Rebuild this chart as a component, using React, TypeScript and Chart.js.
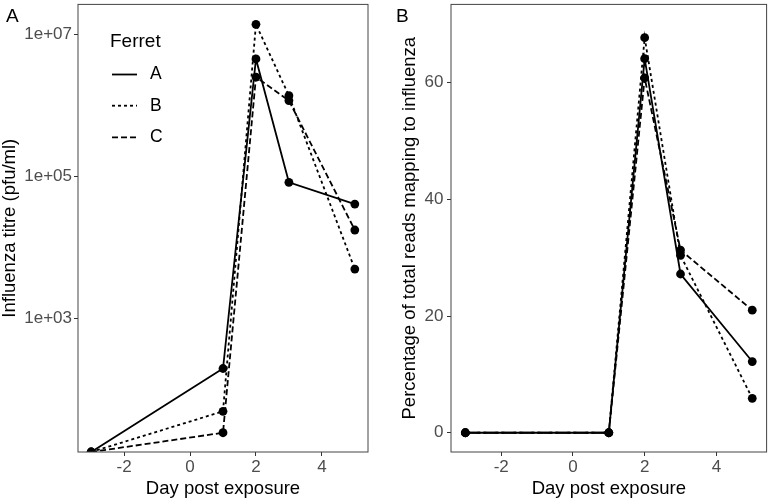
import { useEffect, useRef } from "react";
import { Chart, registerables } from "chart.js";
Chart.register(...registerables);

// ---- data ----
const days = [-3, 1, 2, 3, 5];
const ferrets = ["A", "B", "C"];
const titreA = [0, 200, 4.5e6, 8.3e4, 4.1e4];
const titreB = [0, 50, 1.38e7, 1.37e6, 5.0e3];
const titreC = [0, 25, 2.5e6, 1.17e6, 1.77e4];
const readsA = [0, 0, 64.1, 27.2, 12.2];
const readsB = [0, 0, 67.7, 30.4, 5.9];
const readsC = [0, 0, 60.8, 31.3, 21.0];
const xTicks = [-2, 0, 2, 4];
const titreTicks = [1e3, 1e5, 1e7];
const readsTicks = [0, 20, 40, 60];
const xRange = [-3.4, 5.4];
const titreRange = [13.4, 2.63e7];
const readsRange = [-3.3, 73.4];

const FONT = "'Liberation Sans', Arial, Helvetica, sans-serif";
const dashes: number[][] = [[], [3, 3], [6, 3]];
const LW = 1.8;

function fmtExp(v: number) {
  const e = Math.round(Math.log10(v));
  return "1e+" + String(e).padStart(2, "0");
}

function makeDatasets(series: number[][], floor: number | null) {
  return series.map((vals, k) => ({
    label: ferrets[k],
    data: days.map((d, i) => ({ x: d, y: floor !== null && vals[i] <= 0 ? floor : vals[i] })),
    borderColor: "#000",
    backgroundColor: "#000",
    borderWidth: LW,
    borderDash: dashes[k],
    pointRadius: 4.4,
    pointBorderWidth: 0,
    pointBackgroundColor: "#000",
    tension: 0,
  }));
}

const framePlugin = (label: string, legend: boolean) => ({
  id: "frame",
  afterDraw(chart: any) {
    const { ctx, chartArea: a } = chart;
    ctx.save();
    ctx.strokeStyle = "#444";
    ctx.lineWidth = 1;
    ctx.strokeRect(a.left, a.top, a.right - a.left, a.bottom - a.top);
    ctx.fillStyle = "#000";
    ctx.font = `19px ${FONT}`;
    ctx.textAlign = "left";
    ctx.textBaseline = "alphabetic";
    ctx.fillText(label, 6, 21.5);
    if (legend) {
      ctx.textBaseline = "middle";
      ctx.font = `19px ${FONT}`;
      ctx.fillText("Ferret", 110, 41.5);
      const ys = [74.5, 105.7, 137.3];
      ferrets.forEach((f, k) => {
        ctx.beginPath();
        ctx.setLineDash(dashes[k]);
        ctx.lineWidth = LW;
        ctx.strokeStyle = "#000";
        ctx.moveTo(112, ys[k]);
        ctx.lineTo(137, ys[k]);
        ctx.stroke();
        ctx.setLineDash([]);
        ctx.font = `17.5px ${FONT}`;
        ctx.fillText(f, 150, ys[k]);
      });
    }
    ctx.restore();
  },
});

function xScale() {
  return {
    type: "linear" as const,
    min: xRange[0],
    max: xRange[1],
    afterBuildTicks: (s: any) => {
      s.ticks = xTicks.map((v) => ({ value: v }));
    },
    afterFit: (s: any) => {
      s.height = 48;
      s.paddingLeft = 0;
      s.paddingRight = 0;
    },
    ticks: {
      color: "#4D4D4D",
      font: { family: FONT, size: 17 },
      padding: 1,
      maxRotation: 0,
      autoSkip: false,
    },
    grid: { drawOnChartArea: false, drawTicks: true, tickLength: 4, color: "#333", lineWidth: 1 },
    border: { display: false },
    title: {
      display: true,
      text: "Day post exposure",
      color: "#000",
      font: { family: FONT, size: 18.5, lineHeight: 1 },
      padding: { top: 0, bottom: 2 },
    },
  };
}

export default function App() {
  const refA = useRef<HTMLCanvasElement>(null);
  const refB = useRef<HTMLCanvasElement>(null);

  useEffect(() => {
    const chartA = new Chart(refA.current!, {
      type: "line",
      data: { datasets: makeDatasets([titreA, titreB, titreC], titreRange[0]) as any },
      options: {
        responsive: false,
        animation: false,
        layout: { padding: { top: 2, right: 22, left: 0, bottom: 0 } },
        plugins: { legend: { display: false }, tooltip: { enabled: false } },
        scales: {
          x: xScale() as any,
          y: {
            type: "logarithmic",
            min: titreRange[0],
            max: titreRange[1],
            afterBuildTicks: (s: any) => {
              s.ticks = titreTicks.map((v) => ({ value: v }));
            },
            afterFit: (s: any) => {
              s.width = 78;
              s.paddingTop = 0;
              s.paddingBottom = 0;
            },
            ticks: {
              color: "#4D4D4D",
              font: { family: FONT, size: 17 },
              padding: 2,
              callback: (v: any) => fmtExp(Number(v)),
            },
            grid: { drawOnChartArea: false, drawTicks: true, tickLength: 4, color: "#333" },
            border: { display: false },
            title: {
              display: true,
              text: "Influenza titre (pfu/ml)",
              color: "#000",
              font: { family: FONT, size: 18.5, lineHeight: 1 },
              padding: { top: 0.5, bottom: 0 },
            },
          } as any,
        },
      },
      plugins: [framePlugin("A", true)],
    });

    const chartB = new Chart(refB.current!, {
      type: "line",
      data: { datasets: makeDatasets([readsA, readsB, readsC], null) as any },
      options: {
        responsive: false,
        animation: false,
        layout: { padding: { top: 2, right: 1, left: 0, bottom: 0 } },
        plugins: { legend: { display: false }, tooltip: { enabled: false } },
        scales: {
          x: xScale() as any,
          y: {
            type: "linear",
            min: readsRange[0],
            max: readsRange[1],
            afterBuildTicks: (s: any) => {
              s.ticks = readsTicks.map((v) => ({ value: v }));
            },
            afterFit: (s: any) => {
              s.width = 61;
              s.paddingTop = 0;
              s.paddingBottom = 0;
            },
            ticks: {
              color: "#4D4D4D",
              font: { family: FONT, size: 17 },
              padding: 3.5,
            },
            grid: { drawOnChartArea: false, drawTicks: true, tickLength: 4, color: "#333" },
            border: { display: false },
            title: {
              display: true,
              text: "Percentage of total reads mapping to influenza",
              color: "#000",
              font: { family: FONT, size: 18.5, lineHeight: 1 },
              padding: { top: 10.5, bottom: 0 },
            },
          } as any,
        },
      },
      plugins: [framePlugin("B", false)],
    });

    return () => {
      chartA.destroy();
      chartB.destroy();
    };
  }, []);

  return (
    <div style={{ position: "absolute", left: 0, top: 0, width: 771, height: 500, background: "#fff" }}>
      <canvas ref={refA} width={390} height={500} style={{ position: "absolute", left: 0, top: 0 }} />
      <canvas ref={refB} width={381} height={500} style={{ position: "absolute", left: 390, top: 0 }} />
    </div>
  );
}
